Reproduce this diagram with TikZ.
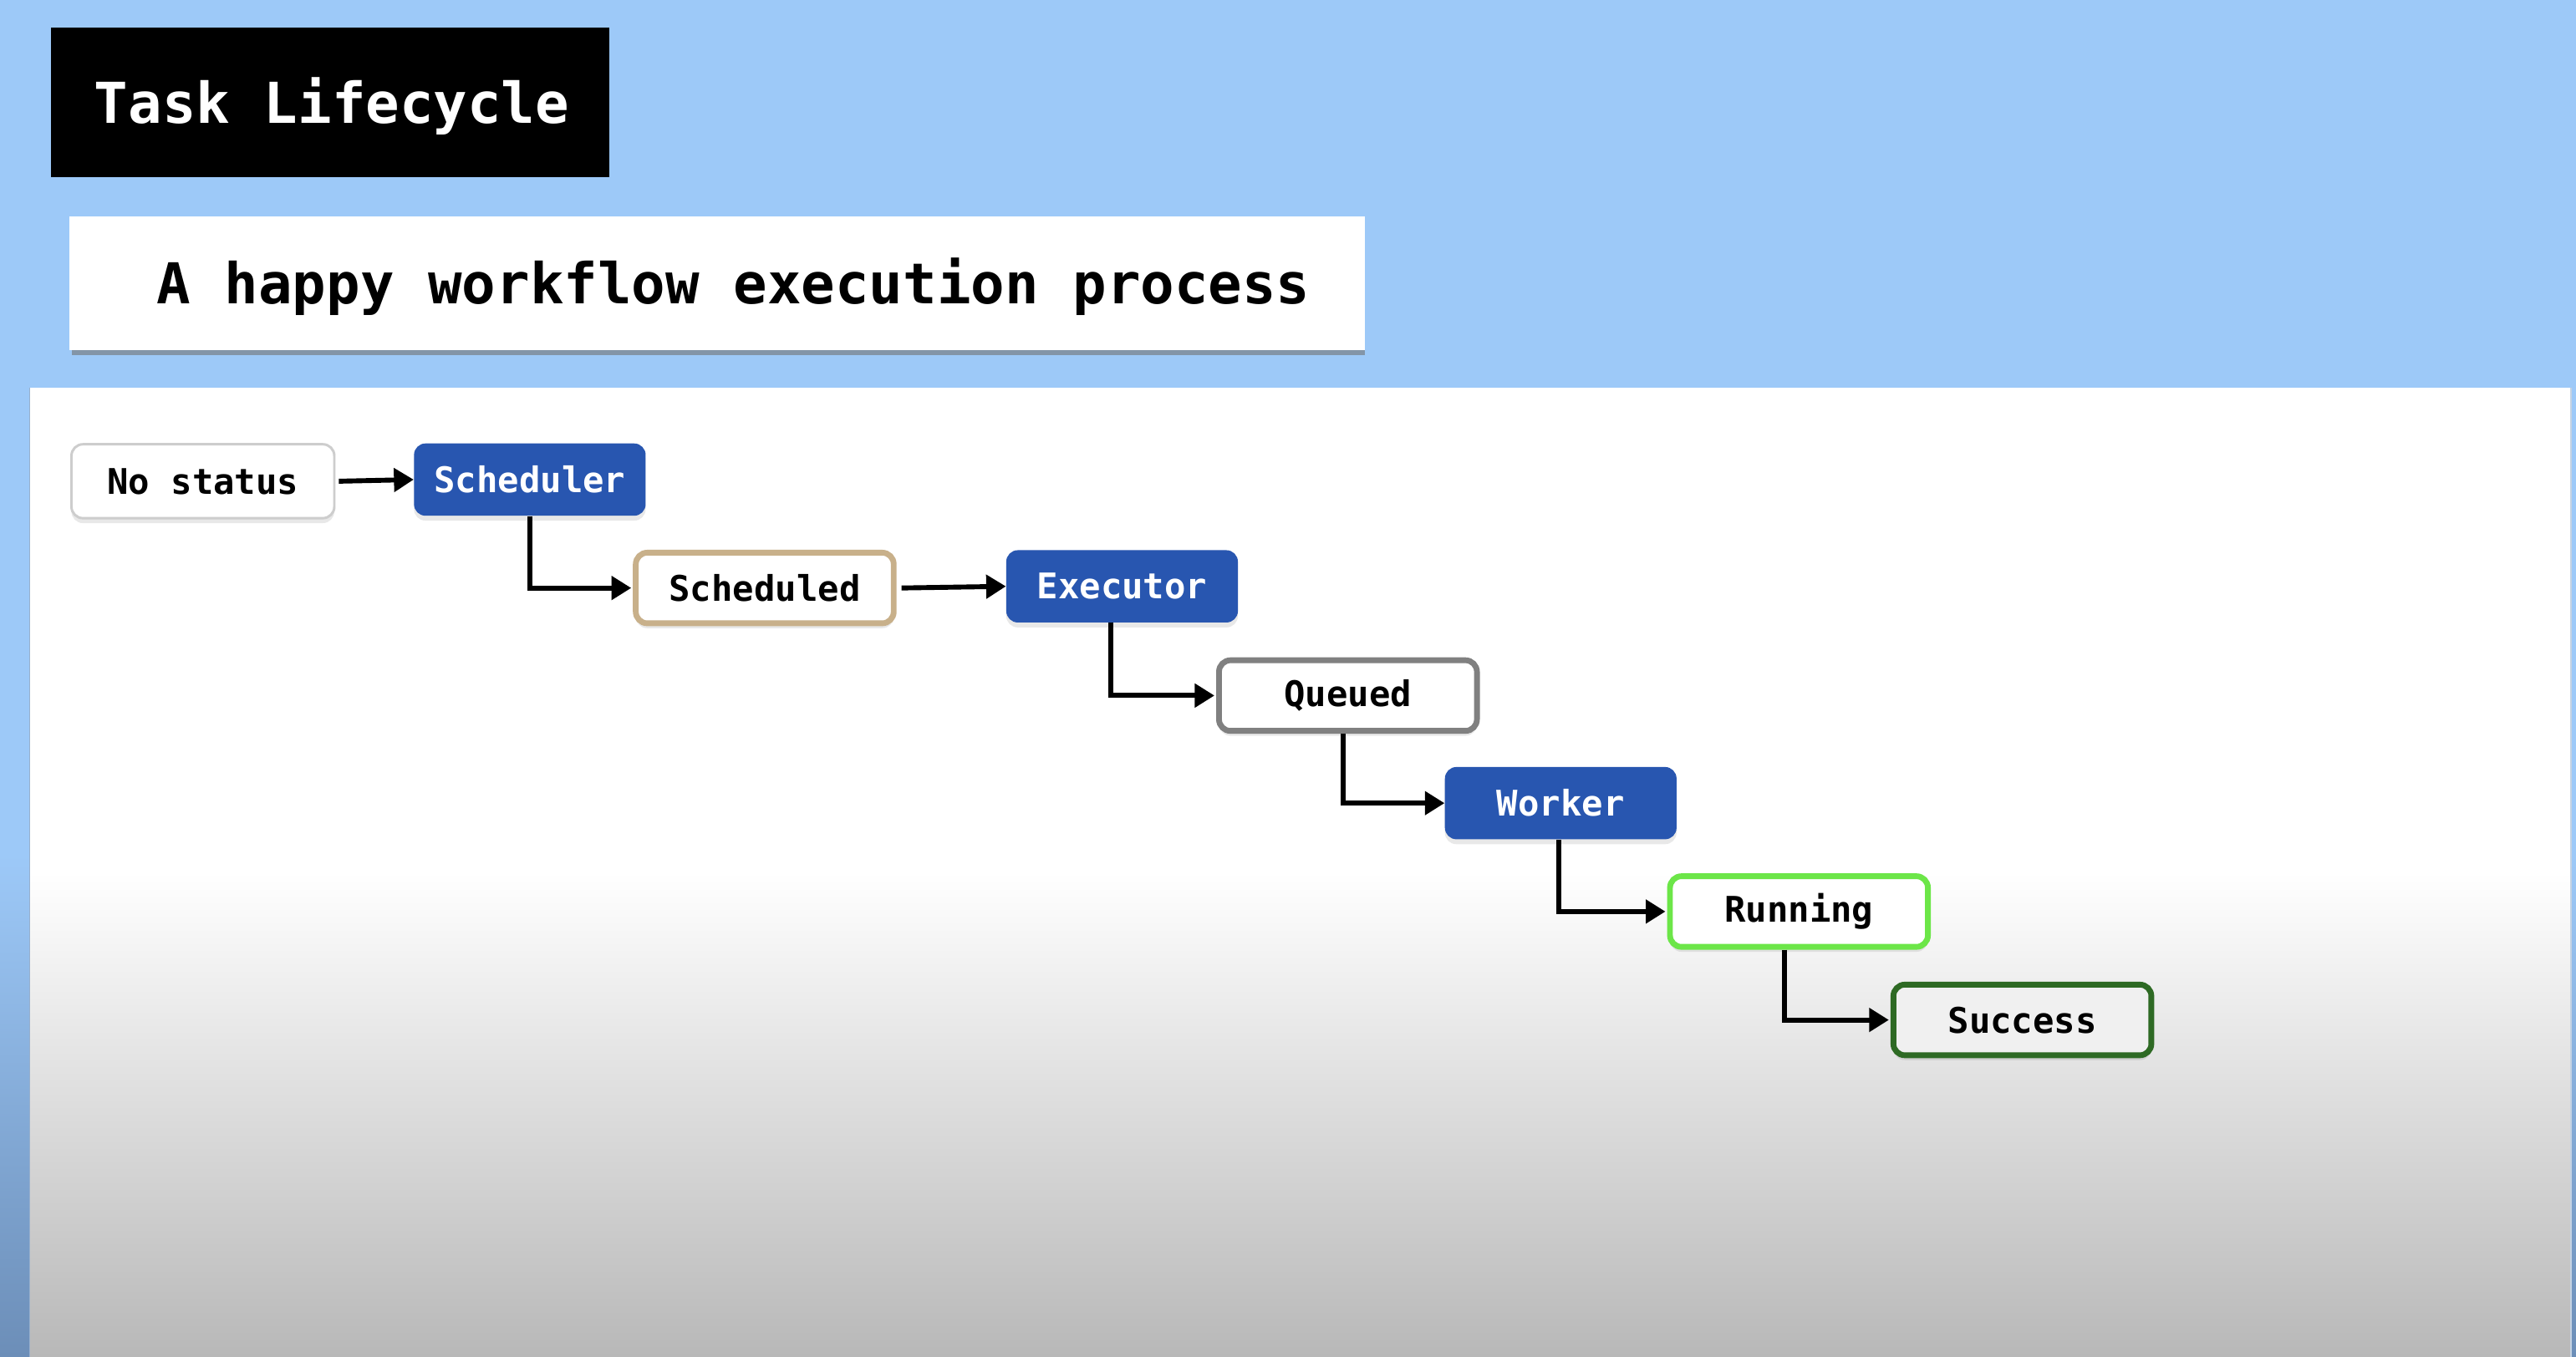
\documentclass[tikz,border=0pt]{standalone}
\usepackage{fontspec}
\newfontfamily\monob{DejaVu Sans Mono Bold}
\usetikzlibrary{arrows.meta,shadows}
\definecolor{skyb}{RGB}{157,201,248}
\definecolor{skybdark}{RGB}{108,142,184}
\definecolor{nodeblue}{RGB}{40,86,176}
\definecolor{tanb}{RGB}{200,176,138}
\definecolor{greyb}{RGB}{128,128,128}
\definecolor{limeb}{RGB}{108,230,72}
\definecolor{darkgreenb}{RGB}{46,106,36}
\definecolor{lightb}{RGB}{205,205,205}
\begin{document}
\begin{tikzpicture}[x=1pt,y=-1pt,
  statebox/.style={rounded corners=7pt, fill=white, line width=3.5pt,
     minimum width=157pt, minimum height=43pt, inner sep=0pt,
     font=\monob\fontsize{21.5}{24}\selectfont, text=black,
     drop shadow={shadow xshift=0pt, shadow yshift=-3pt, opacity=0.18}},
  actorbox/.style={rounded corners=7pt, fill=nodeblue, draw=none,
     minimum width=141pt, minimum height=44pt, inner sep=0pt,
     font=\monob\fontsize{21.5}{24}\selectfont, text=white,
     drop shadow={shadow xshift=0pt, shadow yshift=-3pt, opacity=0.18}},
  flow/.style={line width=3pt, -{Triangle[length=12pt,width=14pt]}},
  titlefont/.style={font=\monob\fontsize{34.3}{40}\selectfont}
]
\useasboundingbox (0,0) rectangle (1568,826);
% background
\fill[skyb] (0,0) rectangle (1568,826);
\shade[top color=skyb, bottom color=skybdark] (0,520) rectangle (18,826);
\shade[top color=skyb, bottom color=skybdark] (1565,520) rectangle (1568,826);
% panel
\fill[white] (18,236) rectangle (1565,532);
\shade[top color=white, bottom color={rgb,255:red,184;green,184;blue,184}] (18,531) rectangle (1565,826);
\draw[skybdark!70, line width=0.8pt] (18,236) -- (18,826);
\draw[skybdark!40, line width=0.8pt] (1565,236) -- (1565,826);

% title
\node[fill=black, minimum width=340pt, minimum height=91pt, inner sep=0pt] (title) at (201,62.5) {};
\node[text=white, titlefont, inner sep=0pt] (titletext) at (202,64.5) {Task Lifecycle};

% subtitle box
\fill[black!55, opacity=0.6] (44,134) rectangle (831,216);
\node[fill=white, minimum width=789pt, minimum height=81pt, inner sep=0pt] (subbox) at (436.5,172.5) {};
\node[titlefont, text=black, inner sep=0pt] (subtitle) at (446.5,174.5) {A happy workflow execution process};

% nodes
\node[statebox, draw=lightb, line width=1.5pt, minimum width=160pt, minimum height=45pt] (nostatus) at (123.5,293) {No status};
\node[actorbox] (scheduler) at (322.5,292) {Scheduler};
\node[statebox, draw=tanb] (scheduled) at (465.5,358) {Scheduled};
\node[actorbox] (executor) at (683,357) {Executor};
\node[statebox, draw=greyb] (queued) at (820.5,423.5) {Queued};
\node[actorbox] (worker) at (950,489) {Worker};
\node[statebox, draw=limeb] (running) at (1095,555) {Running};
\node[statebox, draw=darkgreenb, fill=black!6] (success) at (1231,621) {Success};

% connectors
\draw[flow] ([xshift=2pt]nostatus.east) -- (scheduler.west);
\draw[flow] (scheduler.south) |- ([xshift=-1pt]scheduled.west);
\draw[flow] ([xshift=3pt]scheduled.east) -- (executor.west);
\draw[flow] ([xshift=-7pt]executor.south) |- ([xshift=-1pt]queued.west);
\draw[flow] ([xshift=-3pt]queued.south) |- (worker.west);
\draw[flow] ([xshift=-1pt]worker.south) |- ([xshift=-1pt]running.west);
\draw[flow] ([xshift=-9pt]running.south) |- ([xshift=-1pt]success.west);
\end{tikzpicture}
\end{document}
